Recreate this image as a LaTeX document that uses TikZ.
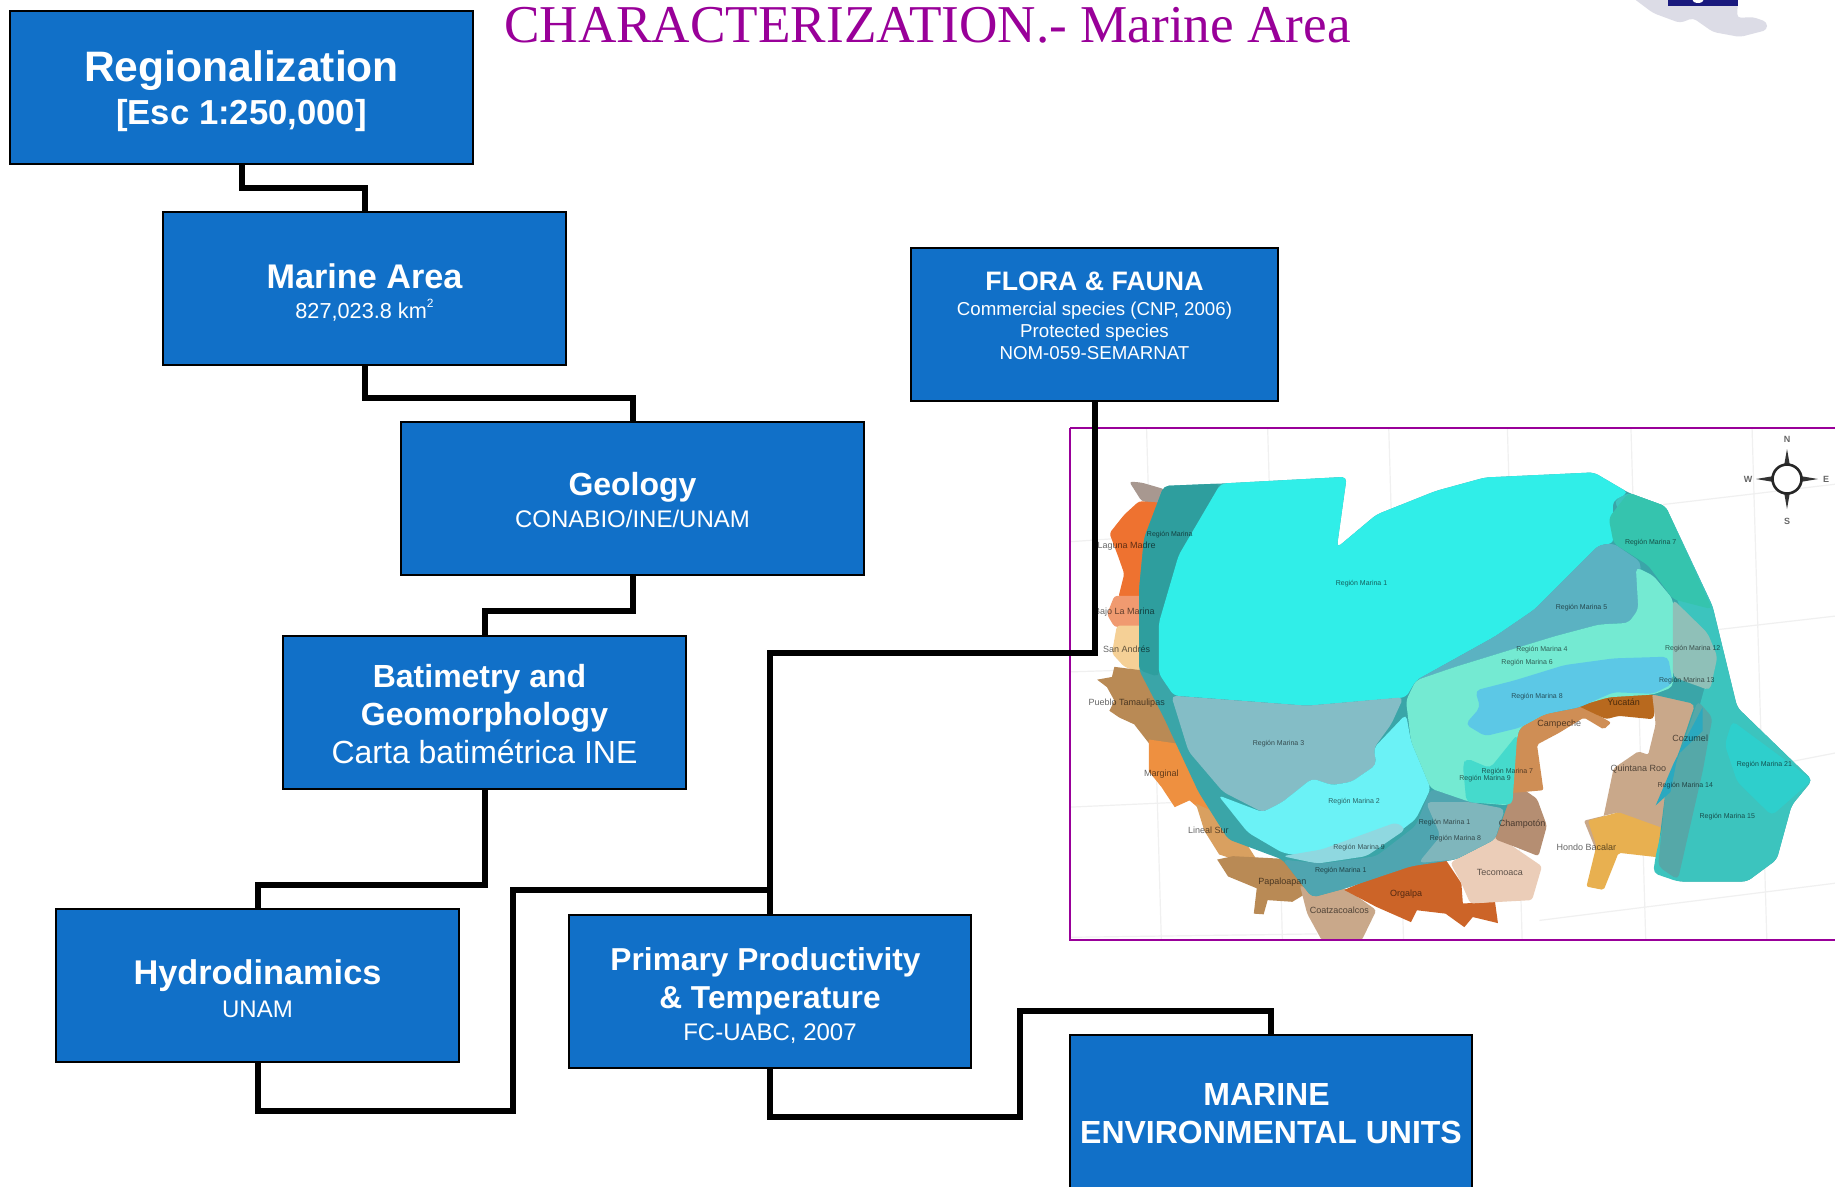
\documentclass[tikz,border=0pt]{standalone}
\usepackage{fontspec}
\setmainfont{Liberation Sans}
\newfontfamily\titlefont{Liberation Serif}
\newcommand{\bt}[2]{{\fontsize{#1}{#1}\selectfont\bfseries #2}}
\newcommand{\rt}[2]{{\fontsize{#1}{#1}\selectfont #2}}
\newcommand{\dn}[1]{\rule[-#1pt]{0pt}{0pt}}
\newcommand{\upr}[1]{\rule{0pt}{#1pt}}
\definecolor{boxblue}{HTML}{1170C8}
\definecolor{titlepurple}{HTML}{990099}
\definecolor{seabase}{HTML}{3AA5A8}
\definecolor{mainc}{HTML}{30EEE8}
\definecolor{stripc}{HTML}{2E9E9E}
\definecolor{outerc}{HTML}{3CC4BE}
\definecolor{greyb}{HTML}{84BDC6}
\definecolor{lightc}{HTML}{6BF2F6}
\definecolor{bandc}{HTML}{8FD8E0}
\definecolor{bottomc}{HTML}{4FA5B0}
\definecolor{bottomg}{HTML}{7FB6BC}
\definecolor{sectorc}{HTML}{5BB2C2}
\definecolor{mintc}{HTML}{74EAD2}
\definecolor{skyc}{HTML}{5CC8E6}
\definecolor{patchc}{HTML}{45DACC}
\definecolor{greyg}{HTML}{8FC0B8}
\definecolor{toprc}{HTML}{35C4AE}
\definecolor{patchr}{HTML}{2ECFCC}
\definecolor{midc}{HTML}{55A8A8}
\definecolor{stripb}{HTML}{2AA9C0}
\definecolor{landgrey}{HTML}{A89890}
\definecolor{landorange}{HTML}{EE7230}
\definecolor{landsalmon}{HTML}{F09A70}
\definecolor{landpeach}{HTML}{F5D096}
\definecolor{landbrown}{HTML}{B98A55}
\definecolor{landmid}{HTML}{EE9040}
\definecolor{landlight}{HTML}{D9A060}
\definecolor{landtan}{HTML}{C9A88A}
\definecolor{landsienna}{HTML}{CC6428}
\definecolor{landpale}{HTML}{EBCDB8}
\definecolor{landdark}{HTML}{B58E72}
\definecolor{landcamp}{HTML}{CF8E55}
\definecolor{landyuc}{HTML}{B8691E}
\definecolor{landyel}{HTML}{E8B050}
\definecolor{logogrey}{HTML}{DCDCE6}
\definecolor{logonavy}{HTML}{1A1A7E}
\tikzset{
  boxnode/.style={draw=black,line width=2pt,fill=boxblue,text=white,align=center,inner sep=0pt,anchor=north west},
  conn/.style={draw=black,line width=6pt,line join=miter},
  seaa/.style={rounded corners=5pt},
  maplabel/.style={font=\fontsize{7}{7}\selectfont,text=black,inner sep=0pt,opacity=.6},
  coastlabel/.style={font=\fontsize{9}{9}\selectfont,text=black,inner sep=0pt,opacity=.6},
  gridline/.style={draw=black!6,line width=1.2pt}
}
\begin{document}
\begin{tikzpicture}[x=1pt,y=-1pt]
\useasboundingbox (0,0) rectangle (1835,1186);
\fill[white] (0,0) rectangle (1835,1186);
\begin{scope}
\clip (0,0) rectangle (1835,1186);

% logo fragment, top right
\fill[logogrey,rounded corners=4pt] (1633,-2) -- (1653,13) -- (1680,23) -- (1693,18) -- (1713,32) -- (1740,37) -- (1767,30) -- (1767,22) -- (1753,17) -- (1737,18) -- (1738,-2) -- cycle;
\fill[logonavy] (1668,-2) rectangle (1738,6);
\fill[white] (1698,-1) ellipse (6 and 4);

% title
\node[font=\titlefont\fontsize{53.2}{53}\selectfont,text=titlepurple,anchor=base west,inner sep=0pt] (title) at (504,42) {CHARACTERIZATION.- Marine Area};

% map
\begin{scope}
\clip (1070,428) rectangle (1840,940);
\begin{scope}[shift={(1060,420)},x=0.4943pt,y=-0.3381pt]
% faint graticule
\foreach \gx in {175,420,665,905,1155,1400}
  \draw[gridline] (\gx,20) -- (\gx+30,1540);
\draw[gridline] (20,360) -- (170,345);
\draw[gridline] (1220,250) -- (1568,190);
\draw[gridline] (1330,620) -- (1568,580);
\draw[gridline] (20,745) -- (130,740);
\draw[gridline] (1480,1010) -- (1568,985);
\draw[gridline] (20,1145) -- (250,1130);
\draw[gridline] (970,1480) -- (1568,1370);
\draw[gridline] (20,1530) -- (520,1520);

% land, west and south coast
\fill[landgrey,rounded corners=3pt] (140,182) -- (165,185) -- (212,205) -- (205,250) -- (165,240) -- cycle;
\fill[landorange,rounded corners=3pt] (160,240) -- (210,245) -- (200,400) -- (190,525) -- (118,525) -- (130,455) -- (118,405) -- (100,335) -- (130,280) -- cycle;
\fill[landsalmon,rounded corners=3pt] (110,520) -- (190,520) -- (190,612) -- (110,612) -- (95,575) -- cycle;
\fill[landpeach,rounded corners=3pt] (115,608) -- (190,608) -- (190,760) -- (130,730) -- (105,690) -- cycle;
\fill[landbrown] (110,730) -- (190,745) -- (250,880) -- (250,960) -- (190,975) -- (150,900) -- (120,880) -- (100,860) -- (110,830) -- (95,790) -- (75,768) -- (105,760) -- cycle;
\fill[landmid] (180,945) -- (250,960) -- (320,1130) -- (320,1170) -- (290,1160) -- (262,1125) -- (232,1145) -- (205,1085) -- (180,1040) -- cycle;
\fill[landlight] (275,1135) -- (345,1180) -- (400,1305) -- (375,1310) -- (322,1285) -- (292,1215) -- cycle;
\fill[landbrown] (318,1300) -- (350,1290) -- (480,1300) -- (515,1385) -- (470,1425) -- (420,1420) -- (412,1462) -- (392,1460) -- (398,1385) -- (340,1350) -- cycle;
\fill[landtan,rounded corners=3pt] (485,1375) -- (515,1400) -- (578,1385) -- (640,1450) -- (610,1540) -- (530,1540) -- (500,1460) -- cycle;
\fill[landsienna] (575,1390) -- (700,1310) -- (780,1300) -- (812,1370) -- (815,1430) -- (880,1425) -- (886,1488) -- (835,1470) -- (818,1500) -- (780,1460) -- (722,1450) -- (710,1485) -- (640,1440) -- cycle;
\fill[landpale,rounded corners=3pt] (790,1310) -- (880,1225) -- (975,1320) -- (955,1420) -- (830,1430) -- (812,1370) -- cycle;
\fill[landdark,rounded corners=3pt] (880,1240) -- (890,1100) -- (935,1090) -- (965,1120) -- (985,1200) -- (968,1290) -- (925,1265) -- cycle;
\fill[landcamp,rounded corners=2pt] (900,990) -- (920,900) -- (990,850) -- (1050,840) -- (1115,895) -- (1100,915) -- (1060,880) -- (1010,925) -- (965,960) -- (978,1095) -- (900,1105) -- cycle;
\fill[landyuc,rounded corners=3pt] (1040,840) -- (1120,790) -- (1210,800) -- (1200,885) -- (1130,875) -- (1105,885) -- cycle;
\fill[landtan,rounded corners=2pt] (1198,810) -- (1250,790) -- (1295,840) -- (1260,960) -- (1240,1100) -- (1220,1180) -- (1230,1260) -- (1130,1160) -- (1060,1185) -- (1085,1275) -- (1110,1100) -- (1120,1030) -- (1170,980) -- (1190,990) -- (1205,900) -- cycle;
\fill[landyel,rounded corners=2pt] (1130,1160) -- (1225,1210) -- (1220,1295) -- (1130,1280) -- (1100,1390) -- (1065,1380) -- (1085,1260) -- (1068,1185) -- cycle;

% sea, base under all sectors
\fill[seabase,seaa] (210,195) -- (325,188) -- (580,168) -- (560,378) -- (640,280) -- (760,210) -- (860,170) -- (1080,155) -- (1150,215) -- (1225,255) -- (1320,550) -- (1370,850) -- (1522,1065) -- (1480,1140) -- (1450,1300) -- (1390,1365) -- (1250,1365) -- (1205,1330) -- (1225,1100) -- (1285,840) -- (1200,812) -- (1120,805) -- (1050,850) -- (980,870) -- (930,910) -- (915,1000) -- (910,1120) -- (880,1240) -- (800,1300) -- (700,1320) -- (578,1385) -- (510,1412) -- (450,1300) -- (340,1240) -- (280,1100) -- (210,880) -- (160,740) -- (160,500) -- (170,350) -- cycle;
\fill[outerc,seaa] (1200,1340) -- (1205,1290) -- (1235,1100) -- (1280,920) -- (1310,760) -- (1240,500) -- (1120,240) -- (1150,215) -- (1225,255) -- (1320,550) -- (1370,850) -- (1522,1065) -- (1480,1140) -- (1450,1300) -- (1390,1365) -- (1250,1365) -- cycle;
\fill[stripc,seaa] (210,195) -- (325,188) -- (240,400) -- (205,600) -- (200,760) -- (160,740) -- (160,500) -- (170,350) -- cycle;
% main basin
\fill[mainc,seaa] (325,188) -- (580,168) -- (560,378) -- (640,280) -- (760,210) -- (860,170) -- (1080,155) -- (1150,215) -- (1118,240) -- (1120,365) -- (1090,370) -- (960,560) -- (880,640) -- (720,770) -- (700,820) -- (500,845) -- (230,815) -- (200,750) -- (200,600) -- (240,400) -- cycle;
% abyssal plain and gulf sectors
\fill[greyb,seaa] (225,815) -- (500,845) -- (695,820) -- (670,900) -- (635,970) -- (640,1020) -- (590,1070) -- (550,1080) -- (510,1060) -- (450,1130) -- (410,1160) -- (330,1100) -- (260,980) -- cycle;
\fill[lightc,seaa] (510,1060) -- (550,1080) -- (590,1070) -- (640,1020) -- (635,970) -- (700,870) -- (710,950) -- (750,1090) -- (720,1180) -- (640,1270) -- (530,1300) -- (450,1280) -- (380,1220) -- (320,1110) -- (410,1160) -- (450,1130) -- cycle;
\fill[bandc,seaa] (450,1290) -- (530,1270) -- (680,1190) -- (700,1210) -- (620,1290) -- (520,1312) -- cycle;
\fill[bottomc,seaa] (750,1090) -- (830,1130) -- (900,1150) -- (880,1240) -- (800,1300) -- (710,1320) -- (578,1385) -- (510,1412) -- (450,1300) -- (530,1312) -- (640,1290) -- (720,1200) -- cycle;
\fill[bottomg,seaa] (740,1130) -- (830,1130) -- (900,1150) -- (880,1240) -- (800,1300) -- (725,1310) -- (770,1230) -- cycle;
\fill[sectorc,seaa] (1090,370) -- (1120,365) -- (1175,420) -- (1170,560) -- (1150,600) -- (1090,605) -- (1000,640) -- (800,730) -- (720,770) -- (880,640) -- (960,560) -- cycle;
\fill[mintc,seaa] (720,770) -- (800,730) -- (1000,640) -- (1090,605) -- (1150,600) -- (1170,560) -- (1165,435) -- (1200,460) -- (1240,530) -- (1240,790) -- (1200,812) -- (1110,820) -- (1040,850) -- (980,870) -- (930,910) -- (915,1000) -- (910,1140) -- (830,1130) -- (750,1090) -- (710,950) -- (700,830) -- cycle;
\fill[skyc,seaa] (840,800) -- (920,770) -- (1020,725) -- (1120,705) -- (1230,700) -- (1240,780) -- (1200,810) -- (1120,805) -- (1050,850) -- (980,870) -- (930,910) -- (860,935) -- (820,900) -- (850,850) -- cycle;
\fill[patchc,seaa] (815,1020) -- (822,1000) -- (870,1030) -- (925,930) -- (915,1138) -- (822,1130) -- cycle;
\fill[greyg,seaa] (1240,530) -- (1310,630) -- (1330,700) -- (1315,800) -- (1240,760) -- cycle;
\fill[toprc,seaa] (1150,215) -- (1225,255) -- (1320,560) -- (1240,530) -- (1190,430) -- (1120,365) -- (1110,290) -- cycle;
\fill[patchr,seaa] (1360,890) -- (1522,1065) -- (1440,1170) -- (1370,1070) -- (1345,960) -- cycle;
\fill[midc,seaa] (1290,830) -- (1320,880) -- (1300,1040) -- (1250,1360) -- (1210,1320) -- (1225,1100) -- (1260,960) -- cycle;
\fill[stripb] (1300,850) -- (1300,920) -- (1250,990) -- (1235,1100) -- (1205,1140) -- (1240,1020) -- (1260,960) -- cycle;

% labels on the map
\foreach \px/\py/\tx [count=\i] in {610/485/Regi\'on Marina 1,1055/555/Regi\'on Marina 5,442/958/Regi\'on Marina 3,595/1130/Regi\'on Marina 2,975/678/Regi\'on Marina 4,945/718/Regi\'on Marina 6,965/818/Regi\'on Marina 8,905/1040/Regi\'on Marina 7,860/1062/Regi\'on Marina 9,778/1190/Regi\'on Marina 1,800/1238/Regi\'on Marina 8,605/1265/Regi\'on Marina 9,568/1332/Regi\'on Marina 1,1195/362/Regi\'on Marina 7,1280/675/Regi\'on Marina 12,1268/770/Regi\'on Marina 13,1425/1018/Regi\'on Marina 21,1350/1173/Regi\'on Marina 15,1265/1082/Regi\'on Marina 14,222/340/Regi\'on Marina}
  \node[maplabel] (lab\i) at (\px,\py) {\tx};
\foreach \px/\py/\tx [count=\i] in {135/372/Laguna Madre,130/568/Bajo La Marina,135/677/San Andr\'es,135/838/Pueblo Tamaulipas,205/1048/Marginal,300/1213/Lineal Sur,450/1368/Papaloapan,565/1450/Coatzacoalcos,700/1402/Orgalpa,890/1337/Tecomoaca,935/1195/Champot\'on,1010/900/Campeche,1140/835/Yucat\'an,1170/1033/Quintana Roo,1065/1265/Hondo Bacalar,1275/940/Cozumel}
  \node[coastlabel] (coast\i) at (\px,\py) {\tx};
\end{scope}
\end{scope}
\draw[titlepurple,line width=2pt] (1070,428) -- (1840,428);
\draw[titlepurple,line width=2pt] (1840,940) -- (1070,940) -- (1070,428);

% compass
\begin{scope}[shift={(1787,479)}]
\fill[black!80] (-3,-13) -- (0,-30) -- (3,-13) -- cycle;
\fill[black!80] (-3,13) -- (0,30) -- (3,13) -- cycle;
\fill[black!80] (-13,-3) -- (-31,0) -- (-13,3) -- cycle;
\fill[black!80] (13,-3) -- (31,0) -- (13,3) -- cycle;
\draw[black!85,line width=2.6pt,fill=white] (0,0) circle (14.5);
\node[font=\bfseries\fontsize{9}{9}\selectfont,text=black!60,inner sep=0pt] (cn) at (0,-40) {N};
\node[font=\bfseries\fontsize{9}{9}\selectfont,text=black!60,inner sep=0pt] (cs) at (0,42) {S};
\node[font=\bfseries\fontsize{9}{9}\selectfont,text=black!60,inner sep=0pt] (cw) at (-39,0) {W};
\node[font=\bfseries\fontsize{9}{9}\selectfont,text=black!60,inner sep=0pt] (ce) at (39,0) {E};
\end{scope}

% boxes
\coordinate (bend) at (512.5,890);
\coordinate (rise) at (1020,1010.7);
\node[boxnode,minimum width=463pt,minimum height=153pt,font=\fontsize{24}{43}\selectfont] (reg) at (9,10) {\bt{42.6}{\upr{38}Regionalization}\\\bt{34.7}{[Esc 1:250,000]}};
\node[boxnode,minimum width=403pt,minimum height=153pt,font=\fontsize{24}{30}\selectfont] (mar) at (162,211) {\bt{34.2}{\upr{32}Marine Area}\\\rt{21.7}{827,023.8 km\raisebox{.5em}{\fontsize{12}{12}\selectfont 2}}};
\node[boxnode,minimum width=463pt,minimum height=153pt,font=\fontsize{24}{32}\selectfont] (geo) at (400,421) {\bt{32}{\upr{27}Geology}\\\rt{24}{CONABIO/INE/UNAM}};
\node[boxnode,minimum width=403pt,minimum height=153pt,font=\fontsize{24}{38}\selectfont] (bat) at (282,635) {\bt{32}{\upr{26}Batimetry and\hspace*{10pt}}\\\bt{32}{Geomorphology}\\\rt{32}{Carta batim\'etrica INE}};
\node[boxnode,minimum width=403pt,minimum height=153pt,font=\fontsize{24}{33}\selectfont] (hyd) at (55,908) {\bt{34.3}{\upr{32}Hydrodinamics}\\\rt{24}{UNAM}};
\node[boxnode,minimum width=402pt,minimum height=153pt,font=\fontsize{24}{38}\selectfont] (pri) at (568,914) {\bt{31.7}{\upr{31}Primary Productivity\hspace*{9pt}}\\\bt{31.7}{\& Temperature}\\[-6pt]\rt{24}{FC-UABC, 2007}};
\node[boxnode,minimum width=367pt,minimum height=153pt,font=\fontsize{19}{22}\selectfont] (flo) at (910,247) {\bt{26.7}{FLORA \& FAUNA}\\[3pt]\rt{18.7}{Commercial species (CNP, 2006)}\\\rt{18.7}{Protected species}\\\rt{18.7}{NOM-059-SEMARNAT\dn{18.5}}};
\node[boxnode,minimum width=402pt,minimum height=158pt,font=\fontsize{24}{38}\selectfont] (env) at (1069,1034) {\bt{32}{MARINE\hspace*{9pt}}\\\bt{32}{ENVIRONMENTAL UNITS}};

% connectors
\draw[conn] (reg.south) -- ++(0,23) -| (mar.north);
\draw[conn] (mar.south) -- ++(0,32) -| (geo.north);
\draw[conn] (geo.south) -- ++(0,35) -| (bat.north);
\draw[conn] (bat.south) -- ++(0,95) -| (hyd.north);
\draw[conn] (hyd.south) -- ++(0,47.5) -| (bend) -| (pri.north);
\draw[conn] (flo.south) -- ++(0,251) -| (pri.north);
\draw[conn] (pri.south) -- ++(0,47.7) -| (rise) -| (env.north);
\end{scope}
\end{tikzpicture}
\end{document}
